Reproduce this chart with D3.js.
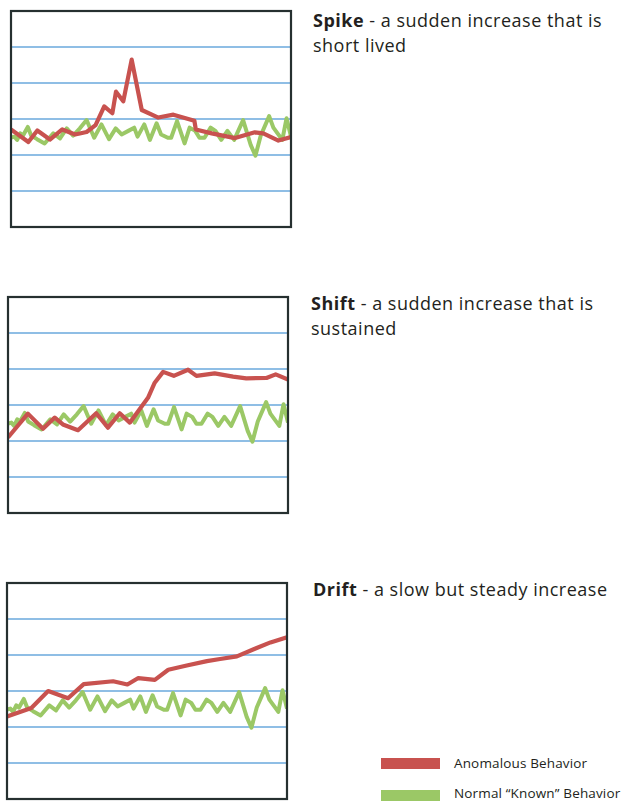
<!DOCTYPE html>
<html>
<head>
<meta charset="utf-8">
<script src="https://cdn.jsdelivr.net/npm/d3@7"></script>
<style>
  html, body { margin: 0; padding: 0; background: #fff; }
  svg { display: block; }
  text { font-family: "Open Sans", "DejaVu Sans", sans-serif; fill: #231f20; }
</style>
</head>
<body>
<div id="chart"></div>
<script>
// ---- data ----
const gridValues = [1, 2, 3, 4, 5];

const normalX = [0,1.2,2.2,3.3,4.3,6,7.2,9.3,12,15.1,17.5,19.9,22.2,24.6,27,29.7,32.3,35,37.4,39.5,41.9,44,45.2,47.6,49.6,52,53.6,56,57.2,59.3,62,63.8,65.8,67.3,69.1,71.3,73,75.1,77.3,79.7,82.9,85.6,87.3,89.2,92.2,93.7,96.9,98.4,100];
const normalY = [2.48,2.51,2.42,2.60,2.54,2.78,2.54,2.44,2.32,2.60,2.46,2.74,2.54,2.74,2.97,2.48,2.85,2.44,2.74,2.57,2.67,2.76,2.51,2.85,2.42,2.88,2.57,2.48,2.48,2.94,2.32,2.76,2.67,2.48,2.48,2.76,2.67,2.42,2.67,2.42,2.97,2.28,1.98,2.54,3.08,2.76,2.42,3.02,2.51];

const spikeX = [0,6.2,9.4,13.9,18.3,22.9,27,30.2,33.3,36.2,37.5,40.1,43.1,46.7,52.6,58,65.5,66,71.7,80,87.1,90.1,95.5,100];
const spikeY = [2.71,2.36,2.68,2.43,2.71,2.57,2.64,2.83,3.35,3.16,3.76,3.49,4.65,3.25,3.04,3.12,2.95,2.71,2.60,2.47,2.63,2.60,2.40,2.50];

const shiftX = [0,7.1,12.5,16.7,19.6,25,31.5,35.7,39.9,43.5,47,50,52.4,55.4,59.2,64.3,67.3,73.8,80.4,85.1,92.3,95.6,100];
const shiftY = [2.10,2.76,2.34,2.65,2.46,2.30,2.77,2.37,2.77,2.51,2.88,3.20,3.62,3.92,3.81,3.98,3.81,3.88,3.79,3.74,3.75,3.85,3.71];

const driftX = [0,8.7,14.7,21.8,27.4,37.9,43,46.9,52.8,57.6,64.2,71.4,76.1,82.1,88.1,94.1,100];
const driftY = [2.29,2.53,3.0,2.80,3.19,3.27,3.18,3.36,3.31,3.59,3.71,3.83,3.89,3.96,4.16,4.35,4.49];

const titles = ["Spike", "Shift", "Drift"];
const descLines = [
  [" - a sudden increase that is", "short lived"],
  [" - a sudden increase that is", "sustained"],
  [" - a slow but steady increase"]
];
const legendLabels = ["Anomalous Behavior", "Normal \u201CKnown\u201D Behavior"];

// ---- drawing ----
const W = 626, H = 802;
const RED = "#c8524f", GREEN = "#9bc866", GRID = "#6aa8dc", BORDER = "#263030";

const svg = d3.select("#chart").append("svg").attr("width", W).attr("height", H);

const panels = [
  { box: [11, 291, 11, 227], xs: spikeX, ys: spikeY, tx: 313, ty: 27 },
  { box: [8, 288, 297, 513], xs: shiftX, ys: shiftY, tx: 311, ty: 310 },
  { box: [7, 287, 583, 799], xs: driftX, ys: driftY, tx: 313, ty: 596 }
];

const zip = (xs, ys) => xs.map((x, i) => [x, ys[i]]);
const normal = zip(normalX, normalY);

panels.forEach((p, i) => {
  const [x0, x1, y0, y1] = p.box;
  const x = d3.scaleLinear().domain([0, 100]).range([x0, x1]);
  const y = d3.scaleLinear().domain([0, 6]).range([y1, y0]);
  const g = svg.append("g");
  const clipId = "clip" + i;
  svg.append("clipPath").attr("id", clipId)
    .append("rect").attr("x", x0).attr("y", y0).attr("width", x1 - x0).attr("height", y1 - y0);

  g.selectAll("line.grid").data(gridValues).join("line")
    .attr("class", "grid")
    .attr("x1", x0).attr("x2", x1)
    .attr("y1", d => y(d)).attr("y2", d => y(d))
    .attr("stroke", GRID).attr("stroke-width", 1.3);

  const line = d3.line().x(d => x(d[0])).y(d => y(d[1]));
  const lg = g.append("g").attr("clip-path", `url(#${clipId})`);
  lg.append("path").datum(normal).attr("d", line)
    .attr("fill", "none").attr("stroke", GREEN).attr("stroke-width", 4)
    .attr("stroke-linejoin", "round");
  lg.append("path").datum(zip(p.xs, p.ys)).attr("d", line)
    .attr("fill", "none").attr("stroke", RED).attr("stroke-width", 4.2)
    .attr("stroke-linejoin", "round");

  g.append("rect").attr("x", x0).attr("y", y0)
    .attr("width", x1 - x0).attr("height", y1 - y0)
    .attr("fill", "none").attr("stroke", BORDER).attr("stroke-width", 2.2);

  const t = svg.append("text").attr("x", p.tx).attr("y", p.ty)
    .attr("font-size", 18).attr("letter-spacing", 0.5);
  t.append("tspan").attr("font-weight", 700).text(titles[i]);
  t.append("tspan").text(descLines[i][0]);
  if (descLines[i][1]) {
    svg.append("text").attr("x", p.tx).attr("y", p.ty + 25)
      .attr("font-size", 18).attr("letter-spacing", 0.5).text(descLines[i][1]);
  }
});

// legend
const legColors = [RED, GREEN];
const leg = svg.append("g");
leg.selectAll("rect").data(legendLabels).join("rect")
  .attr("x", 381).attr("y", (d, i) => 758 + i * 32)
  .attr("width", 59).attr("height", 11)
  .attr("fill", (d, i) => legColors[i]);
leg.selectAll("text").data(legendLabels).join("text")
  .attr("x", 454).attr("y", (d, i) => 768 + i * 30)
  .attr("font-size", 13.5).attr("letter-spacing", 0.15)
  .text(d => d);
</script>
</body>
</html>
